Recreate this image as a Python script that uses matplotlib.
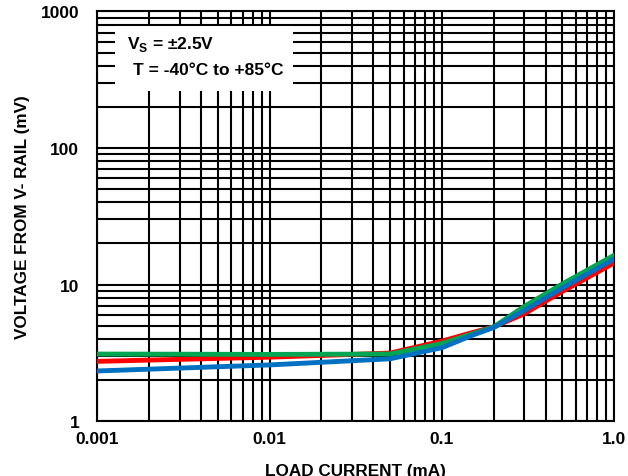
import matplotlib
matplotlib.use('Agg')
import matplotlib.pyplot as plt
from matplotlib.patches import Rectangle

# load current (mA) and voltage from V- rail (mV) for the three temperatures
current = [0.001, 0.01, 0.05, 0.1, 0.15, 0.2, 0.3, 0.5, 1.0]
v_red = [2.74, 2.94, 3.15, 3.85, 4.45, 4.9, 6.1, 8.9, 14.4]
v_green = [3.1, 3.08, 3.1, 3.7, 4.35, 4.9, 6.9, 10.1, 16.4]
v_blue = [2.33, 2.58, 2.86, 3.45, 4.25, 4.85, 6.45, 9.45, 15.4]

x_ticks = [0.001, 0.01, 0.1, 1.0]
x_labels = ['0.001', '0.01', '0.1', '1.0']
y_ticks = [1, 10, 100, 1000]
y_labels = ['1', '10', '100', '1000']


def main():
    plt.rcParams['font.family'] = ['Liberation Sans', 'DejaVu Sans']
    plt.rcParams['font.weight'] = 'bold'
    plt.rcParams['mathtext.fontset'] = 'custom'
    plt.rcParams['mathtext.rm'] = 'Liberation Sans:bold'
    plt.rcParams['mathtext.bf'] = 'Liberation Sans:bold'

    fig = plt.figure(figsize=(6.28, 4.77), dpi=100)
    ax = fig.add_axes([0.155, 0.115, 0.823, 0.859])

    ax.plot(current, v_red, color='#FF0000', lw=3.5, zorder=3)
    ax.plot(current, v_green, color='#00A651', lw=3.5, zorder=4)
    ax.plot(current, v_blue, color='#0070C0', lw=3.5, zorder=5)

    ax.set_xscale('log')
    ax.set_yscale('log')
    ax.set_xlim(0.001, 1.0)
    ax.set_ylim(1, 1000)

    ax.set_axisbelow(True)
    ax.grid(True, which='both', color='black', lw=1.5)
    ax.tick_params(which='both', length=0)
    ax.tick_params(axis='x', pad=7, labelsize=12.5)
    ax.tick_params(axis='y', pad=13, labelsize=12.5)
    ax.set_xticks(x_ticks)
    ax.set_xticklabels(x_labels, fontweight='bold')
    ax.set_yticks(y_ticks)
    ax.set_yticklabels(y_labels, fontweight='bold')
    for spine in ax.spines.values():
        spine.set_linewidth(1.5)

    ax.set_xlabel('LOAD CURRENT (mA)', fontsize=12.3, fontweight='bold', labelpad=12)
    ax.set_ylabel('VOLTAGE FROM V- RAIL (mV)', fontsize=12.3, fontweight='bold', labelpad=8)

    # white box behind the conditions text
    ax.add_patch(Rectangle((0.034, 0.806), 0.344, 0.159, transform=ax.transAxes,
                           facecolor='white', edgecolor='none', zorder=2))
    ax.text(0.057, 0.922, r'V$_{\mathrm{S}}$ = ±2.5V', transform=ax.transAxes,
            fontsize=12.5, fontweight='bold', va='center', ha='left', zorder=6)
    ax.text(0.069, 0.858, 'T = -40°C to +85°C', transform=ax.transAxes,
            fontsize=12.5, fontweight='bold', va='center', ha='left', zorder=6)

    fig.savefig('out.png', dpi=100)


if __name__ == '__main__':
    main()
